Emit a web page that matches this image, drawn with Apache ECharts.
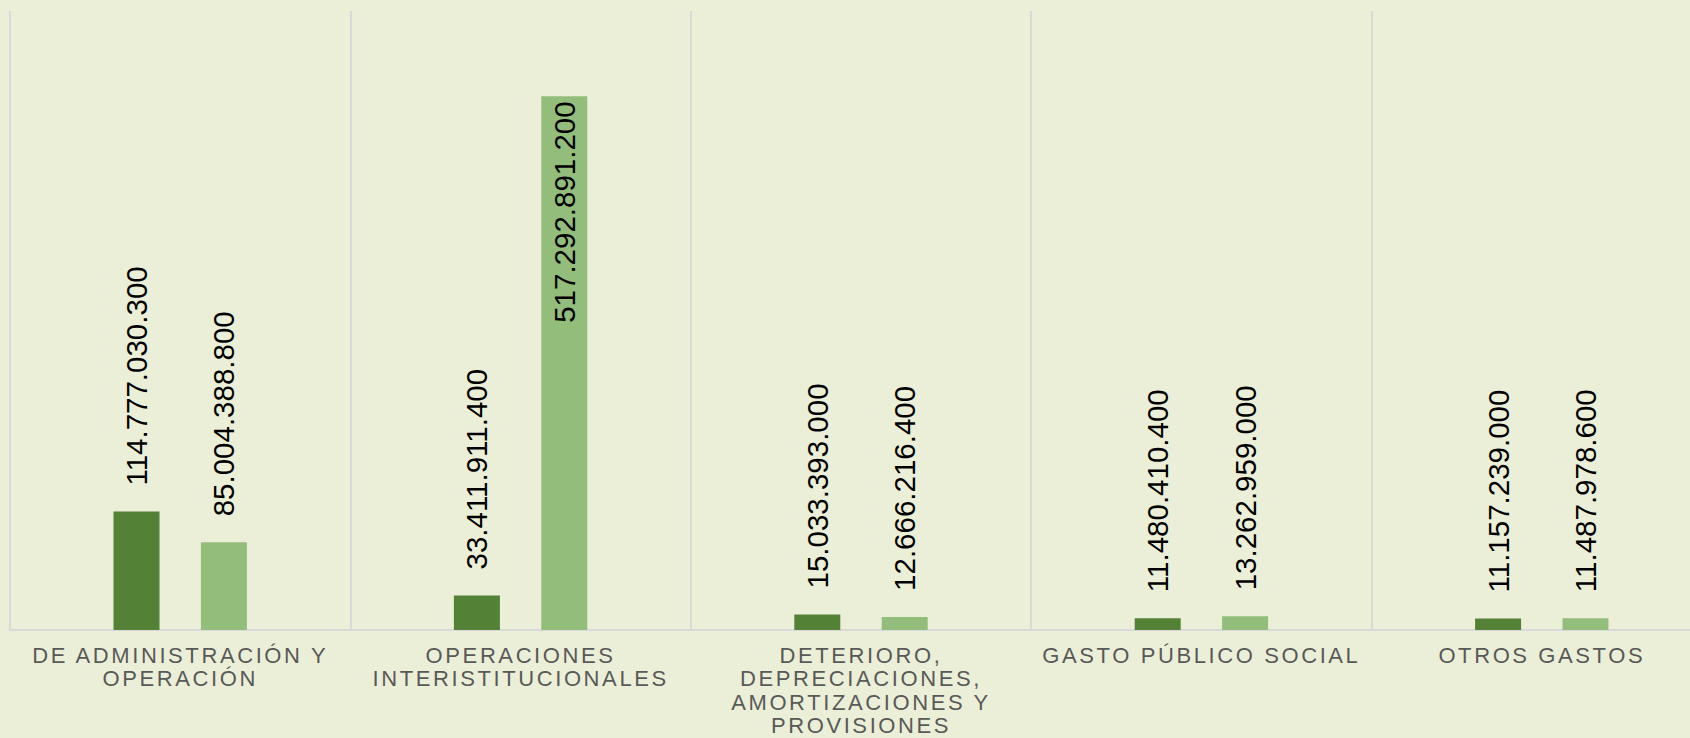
<!DOCTYPE html>
<html>
<head>
<meta charset="utf-8">
<script src="https://cdn.jsdelivr.net/npm/echarts@6/dist/echarts.min.js"></script>
<style>
    html, body { margin: 0; padding: 0; background: #ebefd7; }
    .grafico-gastos { width: 1690px; height: 738px; }
    /* espaciado de letras de las etiquetas del eje (22px) */
    .grafico-gastos text[style*="22px"] { letter-spacing: 2.6px; }
</style>
</head>
<body>
<div class="grafico-gastos"></div>
<script>
// categorias del eje x
var categorias = [
    'DE ADMINISTRACIÓN Y\nOPERACIÓN',
    'OPERACIONES\nINTERISTITUCIONALES',
    'DETERIORO,\nDEPRECIACIONES,\nAMORTIZACIONES Y\nPROVISIONES',
    'GASTO PÚBLICO SOCIAL',
    'OTROS GASTOS'
];
var nombresSeries = ['Serie 1', 'Serie 2'];
var valoresSerie1 = [114777030300, 33411911400, 15033393000, 11480410400, 11157239000];
var valoresSerie2 = [85004388800, 517292891200, 12666216400, 13262959000, 11487978600];
var maxEje = 600000000000;

/***********************barras*******************************/
function BarrasGastos(params){
    this.canvasClass = params.canvasClass;
    this.colores = params.colores;
    this.chartsObj = {};
    this.option = {};
}

// separador de miles con punto
function formatoMiles(valor) {
    return String(valor).replace(/\B(?=(\d{3})+(?!\d))/g, '.');
}

BarrasGastos.prototype.initChart = function () {
    var thisProxy = this;
    var el = document.getElementsByClassName(thisProxy.canvasClass)[0];
    thisProxy.chartsObj = echarts.init(el, null, {renderer: 'svg'});
};

BarrasGastos.prototype.serieDatos = function (valores) {
    // la etiqueta va dentro de la barra cuando no cabe encima
    return valores.map(function (v) {
        if (v > maxEje * 0.6) {
            return {
                value: v,
                label: {position: 'insideTop', align: 'right', distance: 5}
            };
        }
        return v;
    });
};

BarrasGastos.prototype.getOption = function () {
    var thisProxy = this;
    var etiqueta = {
        show: true,
        position: 'top',
        distance: 26,
        rotate: 90,
        align: 'left',
        verticalAlign: 'middle',
        color: '#000',
        fontFamily: 'Arial',
        fontSize: 29.5,
        formatter: function (p) {
            return formatoMiles(p.value);
        }
    };
    thisProxy.option = {
        backgroundColor: '#ebefd7',
        animation: false,
        grid: {
            left: 10,
            right: -22,
            top: 11,
            bottom: 108,
            outerBoundsMode: 'none'
        },
        xAxis: {
            type: 'category',
            data: categorias,
            axisLine: {lineStyle: {color: '#d9d9d9', width: 2}},
            axisTick: {show: false},
            splitLine: {show: true, lineStyle: {color: '#d9d9d9', width: 2}},
            axisLabel: {
                interval: 0,
                margin: 14,
                color: '#595959',
                fontFamily: 'Liberation Sans',
                fontSize: 22,
                lineHeight: 23.3
            }
        },
        yAxis: {
            type: 'value',
            min: 0,
            max: maxEje,
            show: false,
            splitLine: {show: false}
        },
        series: [
            {
                name: nombresSeries[0],
                type: 'bar',
                barWidth: 46,
                barGap: '90%',
                itemStyle: {color: thisProxy.colores[0]},
                label: etiqueta,
                data: thisProxy.serieDatos(valoresSerie1)
            },
            {
                name: nombresSeries[1],
                type: 'bar',
                barWidth: 46,
                barGap: '90%',
                itemStyle: {color: thisProxy.colores[1]},
                label: etiqueta,
                data: thisProxy.serieDatos(valoresSerie2)
            }
        ]
    };
};

BarrasGastos.prototype.fireData = function () {
    this.chartsObj.setOption(this.option);
};

var grafico = new BarrasGastos({
    canvasClass: 'grafico-gastos',
    colores: ['#538135', '#92bd7b']
});
grafico.initChart();
grafico.getOption();
grafico.fireData();
</script>
</body>
</html>
